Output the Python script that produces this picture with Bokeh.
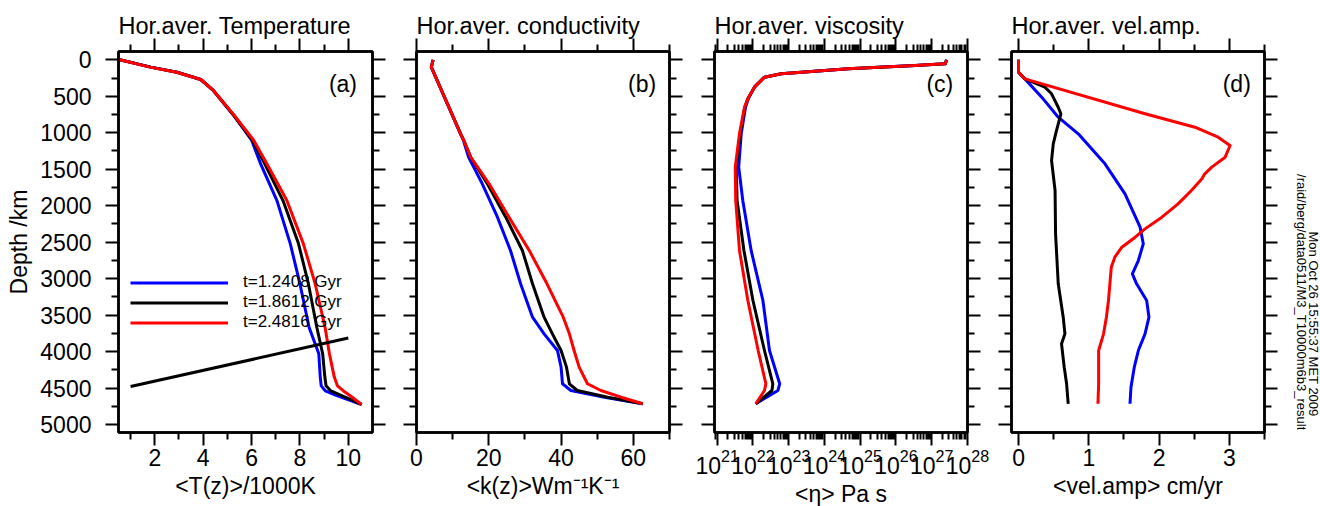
import math
from bokeh.plotting import figure
from bokeh.models import (Range1d, FixedTicker, LinearAxis, LogAxis, Legend, LegendItem,
                          Label, CustomJSTickFormatter)
from bokeh.layouts import row
from bokeh.embed import file_html
from bokeh.resources import INLINE

FONT = "Liberation Sans"
BLUE, BLACK, RED = "#0000ff", "#000000", "#ff0000"
FS = "23px"

series_labels = ["t=1.2408 Gyr", "t=1.8612 Gyr", "t=2.4816 Gyr"]
titles = ["Hor.aver. Temperature", "Hor.aver. conductivity", "Hor.aver. viscosity", "Hor.aver. vel.amp."]
xlabels = ["<T(z)>/1000K", "<k(z)>Wm\u207b\u00b9K\u207b\u00b9", "<\u03b7> Pa s", "<vel.amp> cm/yr"]
panel_tags = ["(a)", "(b)", "(c)", "(d)"]
ylabel = "Depth /km"
stamp_date = "Mon Oct 26 15:55:37 MET 2009"
stamp_path = "/raid/berg/data0511/M3_T10000m6b3_result"

depth_ticks = [0, 500, 1000, 1500, 2000, 2500, 3000, 3500, 4000, 4500, 5000]
depth_minor = [250, 750, 1250, 1750, 2250, 2750, 3250, 3750, 4250, 4750]

# ---- (a) temperature ----
temp_depth = [0, 100, 170, 270, 420, 760, 1100, 1430, 1930, 2520, 3070, 3670, 4030, 4350, 4470, 4540, 4600, 4726]
temp_blue = [0.56, 1.83, 2.92, 3.9, 4.42, 5.26, 6.0, 6.38, 7.05, 7.6, 8.0, 8.38, 8.78, 8.84, 8.88, 9.05, 9.5, 10.55]
temp_black = [0.56, 1.83, 2.92, 3.9, 4.42, 5.26, 6.03, 6.55, 7.3, 7.94, 8.35, 8.7, 8.94, 9.03, 9.08, 9.28, 9.7, 10.55]
temp_red = [0.56, 1.8, 2.9, 3.9, 4.42, 5.28, 6.08, 6.64, 7.46, 8.14, 8.63, 9.04, 9.22, 9.42, 9.55, 9.8, 10.05, 10.55]
ref_line_T = [1.0, 10.0]
ref_line_depth = [4480, 3815]
temp_ticks = [2, 4, 6, 8, 10]
temp_minor = [1, 3, 5, 7, 9]

# ---- (b) conductivity ----
cond_depth = [0, 100, 1015, 1106, 1335, 1700, 2158, 2614, 3071, 3529, 3757, 3986, 4214, 4442, 4534, 4626, 4716]
cond_blue = [4.6, 4.1, 12.2, 13.0, 14.4, 18.2, 22.4, 26.0, 28.8, 32.1, 35.3, 39.0, 40.0, 40.4, 42.7, 52.0, 62.6]
cond_black = [4.6, 4.1, 12.2, 13.1, 15.0, 19.6, 24.7, 29.3, 32.1, 35.3, 37.6, 40.0, 41.5, 42.3, 44.5, 52.9, 62.6]
cond_red = [4.6, 4.1, 12.2, 13.1, 15.0, 20.1, 25.6, 31.2, 36.1, 40.6, 42.3, 43.6, 45.0, 47.3, 51.0, 56.6, 62.6]
cond_ticks = [0, 20, 40, 60]
cond_minor = [10, 30, 50, 70]

# ---- (c) viscosity ----
visc_depth = [0, 55, 78, 124, 192, 238, 375, 535, 650, 1015, 1472, 1929, 2614, 3300, 3986, 4442, 4534, 4716]
visc_blue = [2.6e27, 2.4e27, 3.4e26, 4.6e24, 6.2e22, 2.1e22, 1.1e22, 7.4e21, 6.2e21, 4.7e21, 4.0e21, 5.2e21,
             8.9e21, 1.9e22, 2.9e22, 5.6e22, 5.0e22, 1.2e22]
visc_black = [2.6e27, 2.4e27, 3.4e26, 4.6e24, 6.2e22, 2.1e22, 1.1e22, 7.2e21, 5.9e21, 4.4e21, 3.4e21, 3.6e21,
              5.6e21, 1.0e22, 2.1e22, 3.6e22, 3.4e22, 1.2e22]
visc_red = [2.6e27, 2.4e27, 3.4e26, 4.6e24, 6.2e22, 2.1e22, 1.1e22, 7.2e21, 5.8e21, 4.2e21, 3.2e21, 3.3e21,
            4.2e21, 7.2e21, 1.4e22, 2.3e22, 2.1e22, 1.2e22]
visc_ticks = [1e21, 1e22, 1e23, 1e24, 1e25, 1e26, 1e27, 1e28]

# ---- (d) velocity amplitude ----
vel_blue_depth = [0, 170, 261, 512, 787, 1015, 1426, 1838, 2295, 2523, 2752, 2935, 3071, 3300, 3529, 3757,
                  3986, 4214, 4488, 4716]
vel_blue = [0.0, 0.0, 0.09, 0.33, 0.565, 0.85, 1.23, 1.515, 1.73, 1.775, 1.705, 1.62, 1.68, 1.823, 1.856, 1.80,
            1.705, 1.647, 1.60, 1.586]
vel_black_depth = [0, 170, 261, 375, 466, 650, 741, 969, 1152, 1381, 1792, 2386, 3071, 3529, 3757, 3894, 4214,
                   4442, 4716]
vel_black = [0.0, 0.0, 0.09, 0.375, 0.47, 0.565, 0.603, 0.541, 0.494, 0.47, 0.52, 0.527, 0.565, 0.636, 0.66,
             0.612, 0.65, 0.684, 0.707]
vel_red_depth = [0, 170, 261, 740, 924, 1061, 1175, 1335, 1472, 1563, 1632, 1792, 1975, 2158, 2318, 2432, 2569,
                 2706, 2843, 3071, 3300, 3529, 3757, 3986, 4442, 4716]
vel_red = [0.0, 0.0, 0.09, 1.80, 2.51, 2.84, 3.01, 2.94, 2.75, 2.65, 2.61, 2.46, 2.27, 2.04, 1.80, 1.66, 1.47,
           1.37, 1.32, 1.30, 1.28, 1.25, 1.21, 1.14, 1.14, 1.13]
vel_ticks = [0, 1, 2, 3]
vel_minor = [0.5, 1.5, 2.5, 3.5]


def style_axis(ax, show_labels=True):
    ax.axis_line_width = 2.5
    ax.axis_line_color = "black"
    ax.major_tick_line_width = 2
    ax.minor_tick_line_width = 2
    ax.major_tick_line_color = "black"
    ax.minor_tick_line_color = "black"
    ax.major_tick_out = 13
    ax.major_tick_in = 0
    ax.minor_tick_out = 7
    ax.minor_tick_in = 0
    ax.major_label_text_font = FONT
    if show_labels:
        ax.major_label_text_color = "black"
        ax.major_label_text_font_size = FS
        ax.major_label_standoff = 3
    else:
        ax.major_label_text_color = None
        ax.major_label_text_font_size = "1px"
        ax.major_label_standoff = 0
    ax.axis_label_text_font = FONT
    ax.axis_label_text_font_size = FS
    ax.axis_label_text_font_style = "normal"
    ax.axis_label_text_color = "black"


def make_panel(idx, x_range, x_ticks, x_minor, left_border, right_border, frame_w, log=False):
    kw = {"x_axis_type": "log"} if log else {}
    p = figure(x_range=x_range, y_range=Range1d(5110, -114), frame_width=frame_w, frame_height=381,
               min_border_left=left_border, min_border_right=right_border,
               min_border_top=51, min_border_bottom=74,
               output_backend="svg", toolbar_location=None, **kw)
    p.grid.visible = False
    p.outline_line_color = "black"
    p.outline_line_width = 2.5
    p.background_fill_color = "white"
    p.border_fill_color = "white"

    xt = FixedTicker(ticks=x_ticks, minor_ticks=x_minor)
    yt = FixedTicker(ticks=depth_ticks, minor_ticks=depth_minor)

    bx = p.xaxis[0]
    bx.ticker = xt
    bx.axis_label = xlabels[idx]
    style_axis(bx)
    bx.axis_label_standoff = 4

    ly = p.yaxis[0]
    ly.ticker = yt
    if idx == 0:
        style_axis(ly)
        ly.major_label_standoff = 14
        ly.axis_label = ylabel
        ly.axis_label_standoff = 5
    else:
        style_axis(ly, show_labels=False)

    top = LogAxis(ticker=xt) if log else LinearAxis(ticker=xt)
    style_axis(top, show_labels=False)
    p.add_layout(top, "above")
    ry = LinearAxis(ticker=yt)
    style_axis(ry, show_labels=False)
    p.add_layout(ry, "right")

    p.title.text = titles[idx]
    p.title.text_font = FONT
    p.title.text_font_size = "23.5px"
    p.title.text_font_style = "normal"
    p.title.text_color = "black"
    p.title.align = "left"
    p.title.offset = 0
    p.title.standoff = 0
    return p


def tag(p, x, text):
    p.add_layout(Label(x=x, y=325, text=text, text_align="right", text_baseline="middle",
                       text_font=FONT, text_font_size=FS, text_color="black"))


# (a)
pa = make_panel(0, Range1d(0.5, 11.0), temp_ticks, temp_minor, 118, 22, 254)
rb = pa.line(temp_blue, temp_depth, color=BLUE, line_width=3, line_join="round")
rk = pa.line(temp_black, temp_depth, color=BLACK, line_width=3, line_join="round")
rr = pa.line(temp_red, temp_depth, color=RED, line_width=3, line_join="round")
pa.line(ref_line_T, ref_line_depth, color=BLACK, line_width=3)
leg = Legend(items=[LegendItem(label=series_labels[0], renderers=[rb]),
                    LegendItem(label=series_labels[1], renderers=[rk]),
                    LegendItem(label=series_labels[2], renderers=[rr])],
             location=(12, 100), orientation="vertical")
leg.glyph_width = 98
leg.glyph_height = 19
leg.label_height = 19
leg.label_standoff = 15
leg.padding = 0
leg.spacing = 0
leg.margin = 0
leg.border_line_alpha = 0
leg.background_fill_alpha = 0
leg.label_text_font = FONT
leg.label_text_font_size = "17px"
leg.label_text_color = "black"
pa.add_layout(leg)
tag(pa, 10.36, panel_tags[0])

# (b)
pb = make_panel(1, Range1d(0, 70), cond_ticks, cond_minor, 22, 22, 253)
pb.line(cond_blue, cond_depth, color=BLUE, line_width=3, line_join="round")
pb.line(cond_black, cond_depth, color=BLACK, line_width=3, line_join="round")
pb.line(cond_red, cond_depth, color=RED, line_width=3, line_join="round")
tag(pb, 66.3, panel_tags[1])

# (c)
visc_minor = [k * 10.0 ** n for n in range(20, 28) for k in range(2, 10) if 10 ** 20.925 < k * 10.0 ** n < 1e28]
pc = make_panel(2, Range1d(10 ** 20.925, 1e28), visc_ticks, visc_minor, 23, 22, 253, log=True)
pc.xaxis[0].formatter = CustomJSTickFormatter(code="""
const sup = {'0':'\u2070','1':'\u00b9','2':'\u00b2','3':'\u00b3','4':'\u2074','5':'\u2075','6':'\u2076','7':'\u2077','8':'\u2078','9':'\u2079','-':'\u207b'};
const e = Math.round(Math.log10(tick));
return '10' + String(e).split('').map(c => sup[c]).join('');
""")
pc.line(visc_blue, visc_depth, color=BLUE, line_width=3, line_join="round")
pc.line(visc_black, visc_depth, color=BLACK, line_width=3, line_join="round")
pc.line(visc_red, visc_depth, color=RED, line_width=3, line_join="round")
tag(pc, 4e27, panel_tags[2])

# (d)
pd_ = make_panel(3, Range1d(-0.1, 3.5), vel_ticks, vel_minor, 22, 22, 253)
pd_.line(vel_blue, vel_blue_depth, color=BLUE, line_width=3, line_join="round")
pd_.line(vel_black, vel_black_depth, color=BLACK, line_width=3, line_join="round")
pd_.line(vel_red, vel_red_depth, color=RED, line_width=3, line_join="round")
tag(pd_, 3.305, panel_tags[3])

# strip at the right edge holding the time stamp (pixel-like coordinates)
ps = figure(width=34, height=506, x_range=Range1d(0, 34), y_range=Range1d(506, 0),
            min_border=0, x_axis_location=None, y_axis_location=None,
            output_backend="svg", toolbar_location=None)
ps.outline_line_color = None
ps.grid.visible = False
ps.background_fill_color = "white"
ps.border_fill_color = "white"
ps.add_layout(Label(x=15, y=164, text=stamp_path, angle=-math.pi / 2, text_align="left",
                    text_baseline="middle", text_font=FONT, text_font_size="13px", text_color="black"))
ps.add_layout(Label(x=27, y=241, text=stamp_date, angle=-math.pi / 2, text_align="left",
                    text_baseline="middle", text_font=FONT, text_font_size="13px", text_color="black"))

layout = row(pa, pb, pc, pd_, ps, spacing=0)
open("out.html", "w").write(file_html(layout, INLINE))
